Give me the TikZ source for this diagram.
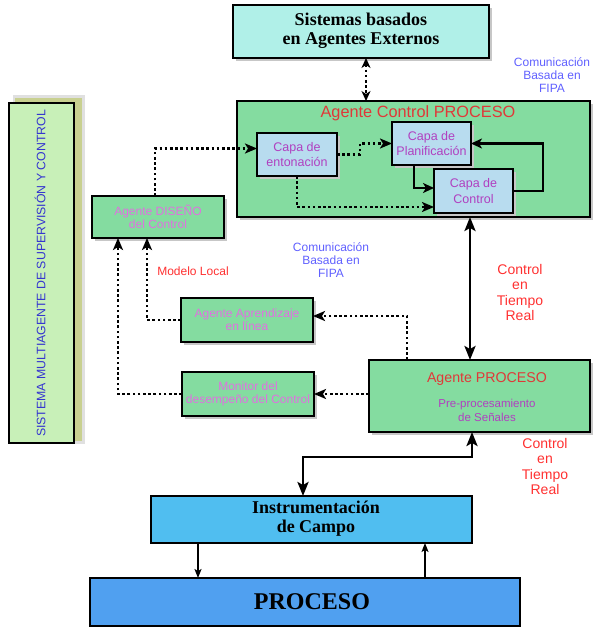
\documentclass[tikz,border=0pt]{standalone}
\usepackage{fontspec}
\setmainfont{Liberation Serif}
\setsansfont{Liberation Sans}
\usetikzlibrary{arrows.meta,shadows}

\definecolor{agentgreen}{HTML}{84DCA0}
\definecolor{layerblue}{HTML}{B8DCEF}
\definecolor{extcyan}{HTML}{B0F0E8}
\definecolor{instblue}{HTML}{50BEF0}
\definecolor{procblue}{HTML}{50A0F0}
\definecolor{sysgreen}{HTML}{C8F0B8}
\definecolor{sysshade}{HTML}{C8D090}
\definecolor{titlered}{HTML}{E03838}
\definecolor{brightred}{HTML}{FF3030}
\definecolor{layerpurple}{HTML}{B040C0}
\definecolor{agentpink}{HTML}{E070E0}
\definecolor{fipablue}{HTML}{6060FF}
\definecolor{sysblue}{HTML}{3434D0}

\tikzset{
  box/.style={draw=black,line width=2pt,inner sep=0pt,outer sep=0pt},
  shadowed/.style={drop shadow={shadow xshift=3pt,shadow yshift=-3pt,fill=black!22,opacity=1}},
  agent/.style={box,shadowed,fill=agentgreen,text=agentpink,align=center,
    font=\fontsize{12}{12.8}\selectfont\sffamily},
  layer/.style={box,shadowed,fill=layerblue,text=layerpurple,align=center,
    font=\fontsize{12.5}{15.5}\selectfont\sffamily},
  bigserif/.style={font=\fontsize{18}{19.5}\selectfont\bfseries,align=center},
  sanslabel/.style={align=center,font=\fontsize{12}{13.3}\selectfont\sffamily},
  rtlabel/.style={align=center,text=brightred,font=\fontsize{14}{15.6}\selectfont\sffamily},
  dotarrow/.style={line width=2.6pt,dash pattern=on 2.6pt off 2.6pt,
    -{Stealth[length=12pt,width=10pt,inset=3pt]}},
  dotdouble/.style={dotarrow,{Stealth[length=10pt,width=9pt,inset=3pt]}-{Stealth[length=10pt,width=9pt,inset=3pt]},line width=2.2pt},
  solidarrow/.style={line width=2.4pt,-{Stealth[length=11pt,width=10pt,inset=3pt]}},
  thickdouble/.style={line width=2.6pt,{Stealth[length=14pt,width=11pt,inset=3pt]}-{Stealth[length=14pt,width=11pt,inset=3pt]}},
  thinarrow/.style={line width=1.3pt,-{Stealth[length=9pt,width=7pt,inset=2pt]}}
}

\begin{document}
\begin{tikzpicture}[x=1pt,y=-1pt]
\useasboundingbox (0,0) rectangle (593,628);

% supervision system column
\fill[black!12] (13,95) rectangle (85,444);
\fill[sysshade] (15,98) rectangle (82,441);
\node[box,fill=sysgreen,minimum width=65pt,minimum height=340pt] (sma) at (41.5,273) {};
\node[rotate=90,text=sysblue,font=\fontsize{12.3}{13}\selectfont\sffamily] (smatext) at (40,273.5)
  {SISTEMA MULTIAGENTE DE SUPERVISIÓN Y CONTROL};

% external agents
\node[box,shadowed,fill=extcyan,minimum width=256pt,minimum height=53pt] (sis) at (361,31.5) {};
\node[bigserif] (sistext) at (361,30.5) {Sistemas basados\\en Agentes Externos};
\node[sanslabel,text=fipablue] (fipatop) at (552,75) {Comunicación\\Basada en\\FIPA};

% control agent with its layers
\node[box,shadowed,fill=agentgreen,minimum width=353pt,minimum height=116pt] (acp) at (413.5,159) {};
\node[text=titlered,font=\fontsize{16.3}{18}\selectfont\sffamily] (acptitle) at (418,113) {Agente Control PROCESO};
\node[layer,minimum width=80pt,minimum height=43pt] (ent) at (297,154.5) {Capa de\\entonación};
\node[layer,minimum width=79pt,minimum height=43pt] (plan) at (431.5,143.5) {Capa de\\Planificación};
\node[layer,minimum width=79pt,minimum height=44pt] (ctl) at (473.5,191) {Capa de\\Control};

% design, learning and monitoring agents
\node[agent,minimum width=132pt,minimum height=42pt] (dis) at (158,217) {Agente DISEÑO\\del Control};
\node[agent,minimum width=132pt,minimum height=44pt] (apr) at (247,320) {Agente Aprendizaje\\en línea};
\node[agent,minimum width=132pt,minimum height=44pt] (mon) at (248,394) {Monitor del\\desempeño del Control};

% process agent
\node[box,shadowed,fill=agentgreen,minimum width=221pt,minimum height=72pt] (ap) at (479.5,396) {};
\node[text=titlered,font=\fontsize{14.2}{16}\selectfont\sffamily] (aptitle) at (487,379) {Agente PROCESO};
\node[align=center,text=layerpurple,font=\fontsize{11.5}{14}\selectfont\sffamily] (apsub) at (487,410)
  {Pre-procesamiento\\de Señales};

% field level
\node[box,fill=instblue,minimum width=321pt,minimum height=47pt] (inst) at (311.5,519.5) {};
\node[bigserif] (insttext) at (316,518.5) {Instrumentación\\de Campo};
\node[box,fill=procblue,minimum width=430pt,minimum height=48pt] (proc) at (305,602) {};
\node[font=\fontsize{24}{26}\selectfont\bfseries] (proctext) at (312,602) {PROCESO};

% free labels
\node[sanslabel,text=fipablue] (fipamid) at (331,260) {Comunicación\\Basada en\\FIPA};
\node[rtlabel] (rtup) at (520,292.5) {Control\\en\\Tiempo\\Real};
\node[rtlabel] (rtlow) at (545,466.5) {Control\\en\\Tiempo\\Real};
\node[sanslabel,text=brightred] (modelo) at (193,271) {Modelo Local};

% routing columns
\coordinate (xfipa) at (366,0);
\coordinate (xrt) at (470,0);
\coordinate (xloop) at (543,0);
\coordinate (bendA) at (472,457);
\coordinate (bendB) at (303,457);
\coordinate (xdown) at (198,0);
\coordinate (xup) at (425,0);

% connectors inside the control agent
\draw[dotarrow] (ent.east) -- ([xshift=23pt]ent.east) |- (plan.west);
\draw[dotarrow] (ent.south) |- ([yshift=-16pt]ctl.west);
\draw[solidarrow] ([xshift=-17.5pt]plan.south) |- ([yshift=3pt]ctl.west);
\draw[solidarrow] (ctl.east) -| (xloop |- plan.east) -- (plan.east);

% FIPA communication between agents
\draw[dotdouble] (xfipa |- sis.south) -- (xfipa |- acp.north);
\draw[dotarrow] ([xshift=-3pt]dis.north) |- ([yshift=6pt]ent.west);
\draw[dotarrow] (apr.west) -| ([xshift=-11pt]dis.south);
\draw[dotarrow] (mon.west) -| ([xshift=-40pt]dis.south);
\draw[dotarrow] ([xshift=-72.5pt]ap.north) |- ([yshift=4pt]apr.east);
\draw[dotarrow] (ap.west |- mon.east) -- (mon.east);

% real-time control links
\draw[thickdouble] (xrt |- acp.south) -- (xrt |- ap.north);
\draw[thickdouble] (bendA |- ap.south) -- (bendA) -- (bendB) -- (bendB |- inst.north);
\draw[thinarrow] (xdown |- inst.south) -- (xdown |- proc.north);
\draw[thinarrow] (xup |- proc.north) -- (xup |- inst.south);
\end{tikzpicture}
\end{document}
